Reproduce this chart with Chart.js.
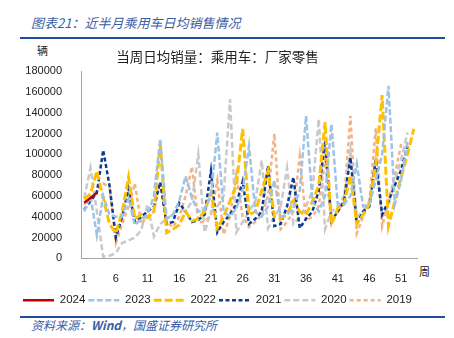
<!DOCTYPE html>
<html>
<head>
<meta charset="utf-8">
<script src="https://cdn.jsdelivr.net/npm/chart.js@4.4.0/dist/chart.umd.min.js"></script>
<style>
body { margin: 0; width: 454px; height: 338px; background: #fff; position: relative; overflow: hidden; font-family: "Noto Sans CJK SC", sans-serif; }
#head { position: absolute; left: 31px; top: 14px; font-size: 13px; color: #3A5DA6; font-style: italic; line-height: 18px; }
.rule { position: absolute; left: 20px; width: 425px; height: 2px; background: #1F4E9A; }
#src { position: absolute; left: 31px; top: 317px; font-size: 12px; color: #3A5DA6; font-style: italic; line-height: 16px; }
#unit { position: absolute; left: 37px; top: 43px; font-size: 11px; color: #222; line-height: 14px; }
#week { position: absolute; left: 419px; top: 264px; font-size: 11px; color: #222; line-height: 14px; }
#box { position: absolute; left: 18px; top: 40px; width: 436px; height: 276px; }
</style>
</head>
<body>
<div id="head">图表21：近半月乘用车日均销售情况</div>
<div class="rule" style="top:37px"></div>
<div id="unit">辆</div>
<div id="week">周</div>
<div id="box"><canvas id="myChart"></canvas></div>
<div class="rule" style="top:316px"></div>
<div id="src">资料来源：<b>Wind</b>，国盛证券研究所</div>
<script>
const weeks = ['1', '2', '3', '4', '5', '6', '7', '8', '9', '10', '11', '12', '13', '14', '15', '16', '17', '18',
    '19', '20', '21', '22', '23', '24', '25', '26', '27', '28', '29', '30', '31', '32', '33', '34', '35', '36',
    '37', '38', '39', '40', '41', '42', '43', '44', '45', '46', '47', '48', '49', '50', '51', '52', '53'];

const y2024 = [53500, 58000, 63000];
const y2023 = [45000, 60000, 22000, 60000, 42000, 40000, 40000, 58000, 32000, 38000, 42000, 60000, 115000,
    38000, 42000, 55000, 79000, 58000, 45000, 47000, 60000, 121000, 45000, 40000, 48000, 65000, 108000,
    45000, 40000, 50000, 75000, 40000, 42000, 48000, 65000, 137000, 55000, 45000, 60000, 129000, 52000,
    52000, 60000, 91000, 50000, 52000, 75000, 100000, 166000, 52000, 75000, 113000];
const y2022 = [57000, 62000, 84000, 58000, 33000, 24000, 45000, 78000, 38000, 42000, 39000, 45000, 110000,
    24500, 28000, 32000, 45000, 36000, 38000, 45000, 63000, 29000, 40000, 55000, 70000, 124500, 42000,
    45000, 65000, 84000, 40000, 38000, 42000, 55000, 45000, 42000, 55000, 70000, 131000, 33000, 48000,
    52000, 80000, 33000, 42000, 52000, 90000, 157000, 31000, 55000, 78000, 100000, 124500];
const y2021 = [47000, 55000, 63000, 104000, 70000, 20000, 40000, 67000, 35000, 40000, 45000, 50000, 73000,
    33000, 35000, 53000, 45000, 35000, 37000, 42000, 84000, 25000, 35000, 42000, 52000, 74000, 33000,
    38000, 45000, 89000, 31000, 33000, 50000, 78000, 29000, 38000, 45000, 65000, 113000, 36000, 45000,
    55000, 97000, 33000, 45000, 50000, 95000, 42000, 55000, 70000, 85000, 108000];
const y2020 = [58000, 87000, 45000, 1500, 2500, 5000, 15000, 17000, 20000, 27000, 52000, 21000, 33000,
    38000, 42000, 48000, 45000, 55000, 100000, 25000, 45000, 50000, 60000, 153000, 25000, 35000, 45000,
    55000, 94000, 29000, 40000, 50000, 87000, 33000, 40000, 50000, 65000, 134000, 28000, 45000, 50000,
    60000, 104000, 40000, 45000, 55000, 95000, 40000, 50000, 75000, 95000, 121000];
const y2019 = [52000, 58000, 65000, 72000, 68000, 15000, 33000, 50000, 72000, 33000, 40000, 45000, 74000,
    35000, 30000, 40000, 60000, 88000, 35000, 35000, 42000, 75000, 23000, 40000, 80000, 40000, 30000,
    35000, 42000, 60000, 120000, 28000, 35000, 45000, 98000, 36000, 40000, 50000, 95000, 33000, 45000,
    55000, 137000, 24000, 40000, 55000, 125000, 31000, 55000, 80000, 110000];

Chart.defaults.font.family = '"Liberation Sans", Arial, sans-serif';
Chart.defaults.color = '#222';

function line(label, data, color, dash, width) {
    return {
        label: label,
        data: data,
        borderColor: color,
        backgroundColor: color,
        borderDash: dash,
        borderWidth: width,
        pointRadius: 0,
        tension: 0,
        fill: false
    };
}

const cht = document.getElementById('myChart');
const chart = new Chart(cht, {
    type: 'line',
    data: {
        labels: weeks,
        datasets: [
            line('2024', y2024, '#C00000', [], 2.5),
            line('2023', y2023, '#9DC3E6', [6, 2.5], 2.5),
            line('2022', y2022, '#FFC000', [8, 3], 3),
            line('2021', y2021, '#0B3C8F', [4, 2.5], 2.5),
            line('2020', y2020, '#C9C9C9', [6, 3], 2.5),
            line('2019', y2019, '#F4B183', [4, 3], 2.5)
        ]
    },
    options: {
        responsive: true,
        maintainAspectRatio: false,
        animation: false,
        layout: { padding: { left: 0, right: 37, top: 0, bottom: 0 } },
        scales: {
            x: {
                offset: true,
                grid: { display: false },
                border: { color: '#A6A6A6', width: 1 },
                ticks: {
                    autoSkip: false,
                    maxRotation: 0,
                    padding: 6,
                    font: { size: 11 },
                    callback: function (v, i) { return i % 5 === 0 ? weeks[i] : ''; } // 1, 6, 11 ...
                }
            },
            y: {
                min: 0,
                max: 180000,
                grid: { display: false },
                border: { color: '#A6A6A6', width: 1 },
                ticks: {
                    stepSize: 20000,
                    padding: 11,
                    font: { size: 11 },
                    callback: function (v) { return String(v); } // no thousands comma
                },
                afterFit: function (s) { s.width = 63; }
            }
        },
        plugins: {
            title: {
                display: true,
                text: '当周日均销量：乘用车：厂家零售',
                font: { family: '"Noto Sans CJK SC", sans-serif', size: 13.5, weight: 'normal' },
                color: '#222',
                padding: { top: 9, bottom: 6 }
            },
            legend: {
                position: 'bottom',
                labels: {
                    usePointStyle: true,
                    pointStyle: 'line',
                    pointStyleWidth: 31,
                    padding: 3,
                    font: { size: 11.5 },
                    color: '#222',
                    // legend line takes the dataset's dash and width
                    generateLabels: function (c) {
                        const items = Chart.defaults.plugins.legend.labels.generateLabels(c);
                        items.forEach(function (item) {
                            const ds = c.data.datasets[item.datasetIndex];
                            item.lineDash = ds.borderDash;
                            item.lineWidth = ds.borderWidth;
                            item.strokeStyle = ds.borderColor;
                        });
                        return items;
                    }
                }
            },
            tooltip: { enabled: false }
        }
    }
});
</script>
</body>
</html>
